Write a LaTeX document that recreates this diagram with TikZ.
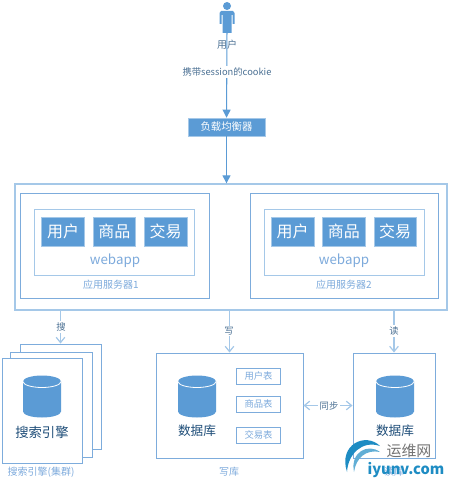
\documentclass[tikz,border=0pt]{standalone}
\usepackage{fontspec}
\usepackage{xcolor}
\usepackage{tikz}
\usetikzlibrary{arrows.meta,positioning}
\setmainfont{Noto Sans CJK SC}
\definecolor{boxblue}{RGB}{91,155,213}
\definecolor{paleblue}{RGB}{165,200,232}
\definecolor{midblue}{RGB}{125,172,220}
\definecolor{darkblue}{RGB}{31,78,121}
\definecolor{capblue}{RGB}{125,170,220}
\definecolor{swirlblue}{RGB}{30,140,195}

\begin{document}
\begin{tikzpicture}[
    x=0.75pt,y=-0.75pt,
    frame/.style 2 args={draw=midblue,line width=0.7pt,fill=white,inner sep=0pt,minimum width=#1*0.75pt,minimum height=#2*0.75pt},
    block/.style={fill=boxblue,draw=paleblue,line width=0.5pt,text=white,font=\fontsize{12}{14}\selectfont,inner sep=0pt,minimum width=32pt,minimum height=22pt},
    tablebox/.style={draw=midblue,line width=0.7pt,fill=white,text=capblue,font=\fontsize{7}{8}\selectfont,inner sep=0pt,minimum width=32.5pt,minimum height=12pt},
    dbcyl/.pic={
      \fill[boxblue] (-19,-15) -- (-19,15) arc[start angle=180,end angle=360,x radius=19,y radius=-6] -- (19,-15) -- cycle;
      \fill[boxblue] (0,-15) ellipse[x radius=19,y radius=6];
      \draw[white,line width=0.6pt] (-19,-15) arc[start angle=180,end angle=360,x radius=19,y radius=-6];
    },
    caption/.style={text=capblue,inner sep=0pt,font=\fontsize{7.5}{9}\selectfont},
    dbtext/.style={text=darkblue,inner sep=0pt,font=\fontsize{9.5}{11}\selectfont},
    edgetext/.style={text=darkblue!80,inner sep=1pt,font=\fontsize{7}{9}\selectfont},
    solidarrow/.style={-{Triangle[length=6pt,width=6pt]},draw=boxblue,line width=0.8pt},
    openarrow/.style={-{Straight Barb[length=4pt,width=6.5pt]},draw=paleblue,line width=0.9pt},
    syncarrow/.style={{Straight Barb[length=4pt,width=6.5pt]}-{Straight Barb[length=4pt,width=6.5pt]},draw=paleblue,line width=0.9pt}
  ]
    \useasboundingbox (0,0) rectangle (449,485);

    % user figure
    \node[circle,fill=boxblue,inner sep=0pt,minimum size=6pt] (head) at (227,6) {};
    \fill[boxblue] (221,11) -- (233,11) -- (234.5,13) -- (234.5,24) -- (232.5,24) -- (232.5,15) -- (231.5,15)
      -- (231.5,33) -- (222.5,33) -- (222.5,15) -- (221.5,15) -- (221.5,24) -- (219.5,24) -- (219.5,13) -- cycle;
    \coordinate (user) at (227,27);

    % load balancer and servers
    \node[fill=boxblue,draw=paleblue,line width=0.5pt,text=white,font=\fontsize{7.8}{9}\selectfont,inner sep=0pt,minimum width=57.5pt,minimum height=13.5pt] (lb) at (226.5,127) {负载均衡器};
    \node[frame={432}{126},draw=paleblue,line width=1pt] (cluster) at (231,247) {};

    \node[frame={189}{105}] (serverA) at (114.5,245.5) {};
    \node[frame={160}{66},draw=paleblue] (appA) at (114,242) {};
    \node[block] (userA) at (63,231.5) {用户};
    \node[block,right=6pt of userA] (goodsA) {商品};
    \node[block,right=6pt of goodsA] (tradeA) {交易};
    \node[text=capblue,inner sep=0pt,font=\fontsize{10}{12}\selectfont] (webA) at (115,261) {webapp};
    \node[caption] (labelA) at (111,285) {应用服务器1};

    \node[frame={188}{105}] (serverB) at (344,245.5) {};
    \node[frame={160}{66},draw=paleblue] (appB) at (344,242) {};
    \node[block] (userB) at (292.5,231.5) {用户};
    \node[block,right=6pt of userB] (goodsB) {商品};
    \node[block,right=6pt of goodsB] (tradeB) {交易};
    \node[text=capblue,inner sep=0pt,font=\fontsize{10}{12}\selectfont] (webB) at (344,261) {webapp};
    \node[caption] (labelB) at (344,285) {应用服务器2};

    % search engine stack
    \node[frame={81}{105}] (searchC) at (60.5,396.5) {};
    \node[frame={82}{105}] (searchB) at (51,404.5) {};
    \node[frame={80}{105}] (searchA) at (42,410.5) {};
    \pic (cylS) at (42,396.5) {dbcyl};
    \node[dbtext,font=\fontsize{10}{12}\selectfont] (textS) at (42,432) {搜索引擎};
    \node[caption] (capS) at (41,472) {搜索引擎(集群)};

    % write database
    \node[frame={147}{105}] (dbW) at (229.5,405.5) {};
    \pic (cylW) at (197,396.5) {dbcyl};
    \node[dbtext] (textW) at (197,431) {数据库};
    \node[tablebox] (tableU) at (258.5,376) {用户表};
    \node[tablebox] (tableG) at (258.5,404) {商品表};
    \node[tablebox] (tableT) at (258.5,435) {交易表};
    \node[caption] (capW) at (229,472) {写库};

    % read database
    \node[frame={82}{105}] (dbR) at (394,405.5) {};
    \pic (cylR) at (395,396.5) {dbcyl};
    \node[dbtext] (textR) at (395,431) {数据库};
    \node[caption] (capR) at (394,472) {读库};

    \draw[solidarrow] (user) -- (lb);
    \draw[solidarrow] (lb) -- (lb |- cluster.north);
    \draw[openarrow] (cluster.south -| searchC.north) -- (searchC.north);
    \draw[openarrow] (cluster.south -| dbW.north) -- (dbW.north);
    \draw[openarrow] (cluster.south -| dbR.north) -- (dbR.north);
    \draw[syncarrow] (dbW.east) -- (dbR.west);

    \node[edgetext,font=\fontsize{7.5}{9}\selectfont] (userText) at (227,45) {用户};
    \node[edgetext,fill=white,inner sep=1.5pt] (carryText) at (227,72) {携带session的cookie};
    \node[edgetext,fill=white] (searchText) at (61,327) {搜};
    \node[edgetext,fill=white] (writeText) at (229,331) {写};
    \node[edgetext,fill=white] (readText) at (394,331) {读};
    \node[edgetext,fill=white] (syncText) at (329,405.5) {同步};

    % watermark
    \fill[swirlblue] (380,446) .. controls (366,432) and (338,444) .. (347,472) .. controls (348,454) and (362,440) .. (380,446) -- cycle;
    \fill[swirlblue!70] (380,452) .. controls (368,443) and (350,452) .. (354,472) .. controls (356,458) and (366,449) .. (380,452) -- cycle;
    \node[text=black!55,inner sep=0pt,font=\fontsize{11.2}{12}\selectfont] (markCn) at (409,451) {运维网};
    \node[text=swirlblue,inner sep=0pt,font=\fontsize{11}{12}\selectfont\bfseries] (markEn) at (406,470) {iyunv.com};
  \end{tikzpicture}
\end{document}
